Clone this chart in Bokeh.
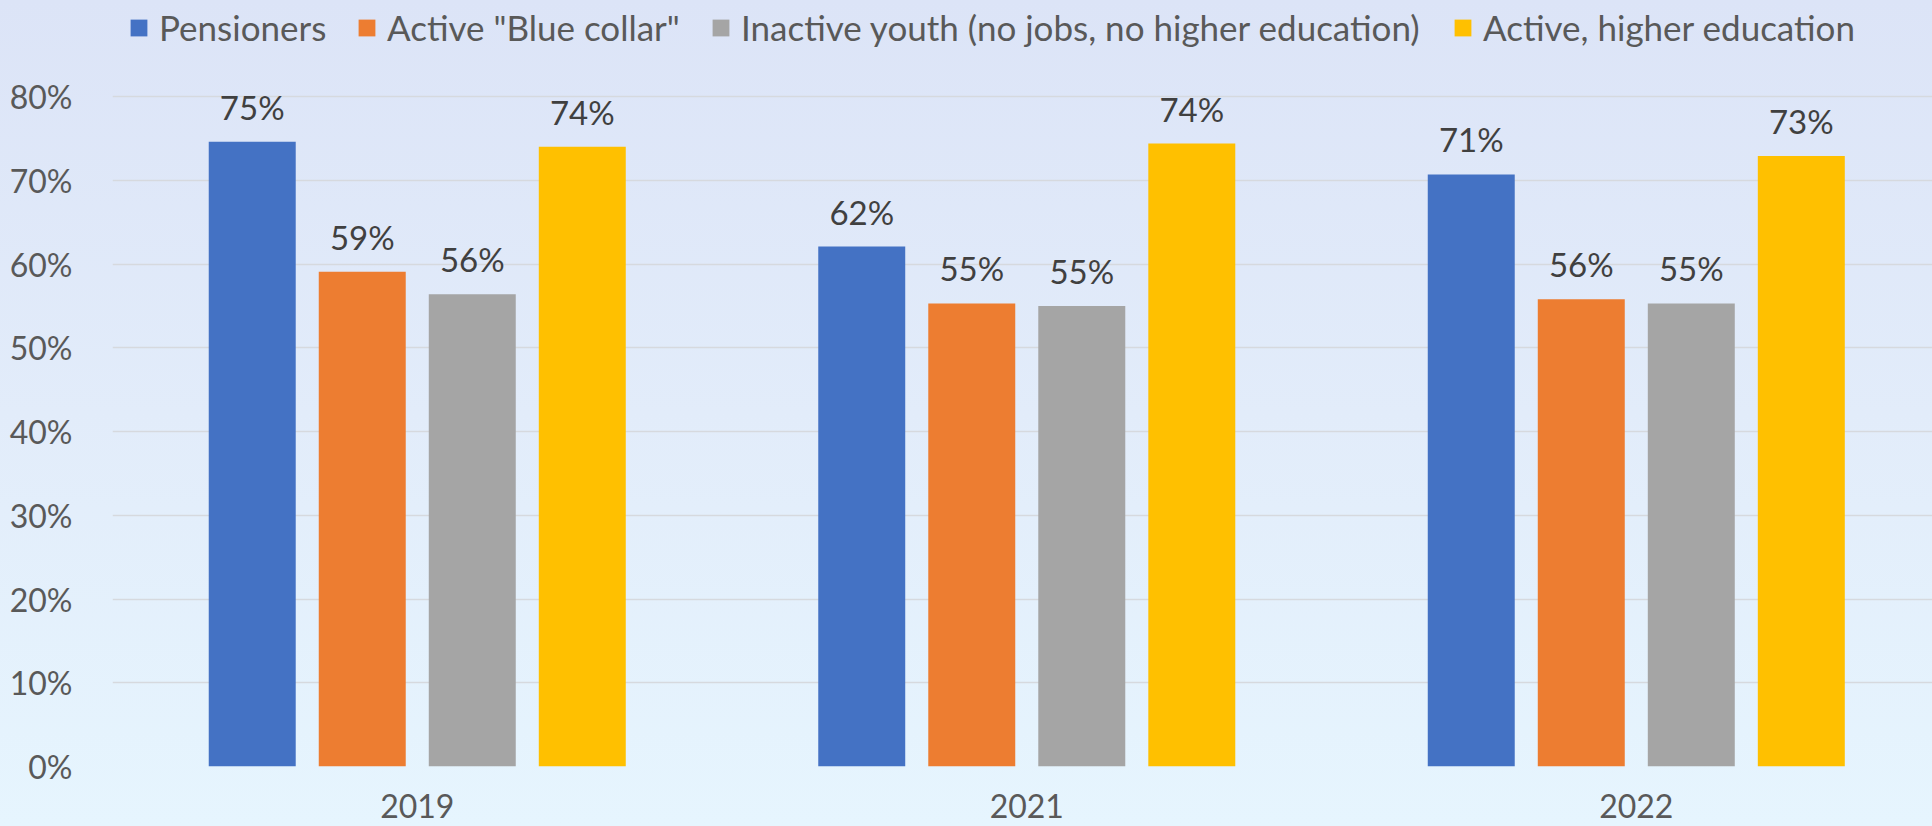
from bokeh.plotting import figure
from bokeh.models import (ColumnDataSource, FixedTicker, Legend, LegendItem,
                          Range1d, PrintfTickFormatter)
from bokeh.core.properties import value
from bokeh.embed import file_html
from bokeh.resources import INLINE

# ---- data -------------------------------------------------------------
years = ["2019", "2021", "2022"]
series_names = ["Pensioners", 'Active "Blue collar"',
                "Inactive youth (no jobs, no higher education)",
                "Active, higher education"]
pensioners = [74.6, 62.1, 70.7]
blue_collar = [59.1, 55.3, 55.8]
inactive_youth = [56.4, 55.0, 55.3]
higher_education = [74.0, 74.4, 72.9]
y_ticks = [0, 10, 20, 30, 40, 50, 60, 70, 80]

series_values = [pensioners, blue_collar, inactive_youth, higher_education]
colors = ["#4472C4", "#ED7D31", "#A5A5A5", "#FFC000"]

# ---- layout constants ---------------------------------------------------
FONT = "Lato"
pitch = 0.1805
bar_w = 0.1427
legend_x = [16, 244, 598, 1340]

p = figure(width=1932, height=826,
           x_range=Range1d(0, 2.986), y_range=Range1d(0, 91.48),
           output_backend="svg", toolbar_location=None,
           min_border_left=112, min_border_right=0,
           min_border_top=0, min_border_bottom=60)

p.background_fill_alpha = 0
p.border_fill_alpha = 0
p.outline_line_color = None
p.styles = {"background": "linear-gradient(to bottom, #dce4f7 0%, #e2ecfa 50%, #e6f5fe 100%)"}

renderers = []
for k, (name, vals, col) in enumerate(zip(series_names, series_values, colors)):
    xs = [i + 0.5 + (k - 1.5) * pitch for i in range(len(years))]
    src = ColumnDataSource(dict(x=xs, top=vals,
                                lab=[f"{round(v)}%" for v in vals]))
    r = p.vbar(x="x", top="top", width=bar_w, bottom=0, source=src,
               fill_color=col, line_color=None)
    renderers.append(r)
    p.text(x="x", y="top", text="lab", source=src,
           text_align="center", text_baseline="alphabetic", y_offset=-35,
           text_font=value(FONT), text_font_size="33px", text_color="#404040")

# axes
p.xaxis.ticker = FixedTicker(ticks=[i + 0.5 for i in range(len(years))])
p.xaxis.major_label_overrides = {i + 0.5: y for i, y in enumerate(years)}
p.yaxis.ticker = FixedTicker(ticks=y_ticks)
p.yaxis.formatter = PrintfTickFormatter(format="%d%%")
for ax in (p.xaxis[0], p.yaxis[0]):
    ax.axis_line_color = None
    ax.major_tick_line_color = None
    ax.minor_tick_line_color = None
    ax.major_label_text_font = FONT
    ax.major_label_text_font_size = "32px"
    ax.major_label_text_color = "#595959"
p.yaxis.major_label_standoff = 34
p.xaxis.major_label_standoff = 21

p.xgrid.visible = False
p.ygrid.ticker = FixedTicker(ticks=y_ticks)
p.ygrid.grid_line_color = "#d6d9de"
p.ygrid.grid_line_width = 1.5

# legend (one entry per box so the swatches sit where the reference has them)
for k, r in enumerate(renderers):
    leg = Legend(items=[LegendItem(label=series_names[k], renderers=[r])],
                 location=(legend_x[k], 718), orientation="horizontal",
                 glyph_width=21, glyph_height=21, label_standoff=10,
                 padding=0, margin=0, border_line_color=None,
                 background_fill_alpha=0,
                 label_text_font=FONT, label_text_font_size="35px",
                 label_text_color="#595959")
    p.add_layout(leg)

open("out.html", "w").write(file_html(p, INLINE))
